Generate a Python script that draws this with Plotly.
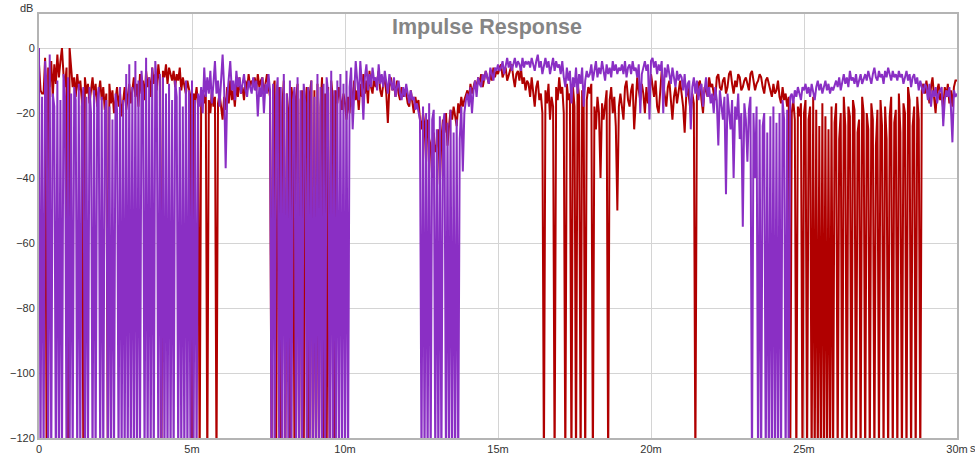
import plotly.graph_objects as go

# sample period of the impulse response, ms
dt = 0.05
N = -130  # below the -120 floor, drawn clipped

# channel 1 (red), dB, one row per millisecond
red_db = [
    -5, -13, -14, -14, -3, N, -6, -12, -4, -15, -5, -11, -2, -9, -4, 0, -8, -12, -6, N,
    0, -6, -12, -9, -15, -8, -13, -10, -16, N, -9, -14, -11, -17, -12, -9, -15, -11, -18, -13,
    -10, -16, -12, -19, -14, N, -11, -17, -13, -20, -15, -12, -18, -14, -21, -16, -12, -19, -15, -11,
    -17, -13, -9, -15, -11, -18, -8, -14, -10, -16, -7, -12, -9, -15, -6, -11, -8, -13, -5, -10,
    N, -7, -9, -5, -11, -6, -8, -10, -7, -12, -8, -10, -6, -13, -9, -11, -14, -10, -12, -15,
    N, -14, -16, -12, -18, N, -15, -13, -17, -14, N, -16, -20, -13, -18, -15, N, -17, -14, -19,
    -22, -15, -19, -12, -17, -10, -16, -13, -18, -11, -15, -9, -14, -12, -16, -10, -13, -8, -12, -10,
    -11, -9, -13, -8, -12, -10, -9, -14, -11, -8, -12, -15, N, -13, -10, N, -16, -12, N, -18,
    -10, N, -14, -20, N, -12, -17, N, -15, -11, N, -16, -13, N, -19, -12, N, -14, -10, N,
    -13, N, -11, N, -18, -9, N, -14, N, -12, N, -10, -15, N, -13, -17, -12, -15, -19, -14,
    -17, -22, -15, -20, -12, -18, -10, -16, -13, -19, -11, -15, -8, -14, -10, -17, -7, -12, -14, -9,
    -12, -10, -7, -13, -15, -11, -9, -14, -23, -12, -9, -13, -11, -15, -10, -14, -16, -12, -15, -13,
    -14, -17, -18, -13, -16, -20, -15, -18, -16, -22, -25, -20, -24, -35, -22, -28, -30, -40, -26, -32,
    -30, -25, -42, -28, -22, -26, -20, -30, -24, -19, -22, -18, -21, -24, -17, -20, -15, -18, -16, -14,
    -13, -16, -11, -14, -12, -10, -13, -9, -11, -8, -12, -10, -7, -9, -11, -8, -10, -6, -9, -7,
    -8, -6, -5, -9, -7, -6, -10, -8, -7, -5, -9, -12, -8, -7, -10, -6, -11, -9, -13, -10,
    -11, -15, -9, -13, -18, -12, -10, -16, -14, -20, N, -13, -17, -11, -22, -15, -18, N, -12, -16,
    -9, -14, -12, -20, N, -11, -16, -14, N, -12, -18, N, -10, -15, N, -13, -17, N, -16, -12,
    -14, -11, N, -18, -25, -15, -20, -40, -17, -22, -18, -13, N, -16, -12, -20, -15, -24, -50, -18,
    -14, -19, -22, -12, -10, -16, -18, -13, -11, -25, -15, -9, -13, -16, -11, -14, -20, -12, -17, -15,
    -8, -12, -15, -10, -18, -20, -13, -7, -11, -14, -18, -12, -10, -16, -22, -15, -12, -17, -13, -10,
    -14, -18, -26, -15, -12, -16, -20, -14, -17, N, -15, -11, -10, -16, -20, -12, -13, -15, -9, -12,
    -11, -14, -16, -9, -8, -12, -13, -10, -9, -14, -12, -8, -7, -11, -14, -10, -12, -8, -9, -13,
    -12, -10, -9, -11, -13, -8, -7, -10, -13, -11, -10, -8, -9, -12, -14, -10, -9, -11, -13, -15,
    -11, -14, -13, -10, -15, -17, -12, -16, -14, -18, -15, N, -20, -16, -22, N, -18, -21, -17, N,
    -20, -16, N, -22, -18, N, -15, N, -19, N, -24, N, -17, N, -21, N, -25, N, -18, N,
    -23, -17, N, -28, -20, N, -15, -24, N, -18, -21, N, -16, -19, N, -26, -22, N, -15, -20,
    N, -20, -25, N, -17, -22, N, -30, -19, N, -16, -24, N, -18, -28, N, -21, -15, N, -23,
    -19, N, -14, -26, N, -17, -20, N, -12, -16, N, -24, -18, N, -15, -22, N, -13, -11, -14,
    -10, -14, -17, -12, -9, -15, -20, -13, -11, -16, -14, -19, -12, -15, -11, -17, -13, -18, -12, -10,
    -10,
]

# channel 2 (purple), dB
purple_db = [
    0, N, -15, N, -4, -12, N, -2, N, -14, -18, N, -10, N, -16, N, -8, -15, N, -9,
    N, -14, N, -12, -16, N, -11, N, -18, -12, N, -15, N, -12, -20, N, -13, N, -17, -12,
    N, -15, N, -20, -16, N, -18, N, -22, N, -14, -19, N, -12, N, -16, N, -8, N, -5,
    N, -12, N, -4, N, -10, N, -7, -14, N, -3, N, -9, N, -6, N, -4, -12, N, -8,
    N, -9, N, -14, N, -11, N, -16, N, -10, -15, N, -12, N, -18, N, -10, N, -13, N,
    -10, N, -16, N, -14, -18, -12, -20, -6, -15, -9, -14, -7, -17, -11, -4, -14, -10, -18, -9,
    -2, -12, -37, -15, -8, -4, -13, -10, -16, -7, -12, -9, -14, -11, -8, -13, -15, -10, -12, -14,
    -9, -13, -10, -21, -12, -15, -9, -20, -11, -14, -8, -13, N, -11, N, -15, -9, N, -12, N,
    -8, N, -14, N, -10, N, -16, -12, N, -9, N, -13, N, -11, -17, N, -12, N, -10, N,
    -15, N, -8, N, -12, N, -11, N, -9, -14, N, -7, N, -13, N, -10, N, -8, N, -11,
    N, -7, N, -12, -6, -25, -14, -4, -10, -16, -4, -11, -22, -9, -5, -13, -8, -12, -6, -10,
    -9, -13, -5, -11, -8, -12, -7, -10, -14, -8, -11, -13, -9, -15, -12, -10, -14, -16, -12, -15,
    -11, -14, -17, -13, -16, -15, -19, -17, -20, -22, N, -18, N, -20, N, -17, N, -22, -19, N,
    -25, N, -21, N, -24, -20, N, -23, N, -19, N, -26, N, -22, N, -28, -18, -38, -20, -16,
    -14, -18, -12, -20, -13, -10, -15, -9, -11, -12, -8, -10, -7, -9, -11, -6, -8, -10, -6, -7,
    -5, -7, -6, -4, -8, -5, -3, -6, -4, -7, -5, -3, -6, -4, -5, -7, -3, -6, -4, -5,
    -4, -6, -3, -5, -7, -4, -2, -6, -4, -8, -5, -3, -6, -4, -8, -5, -3, -7, -4, -6,
    -5, -8, -4, -9, -12, -6, -10, -7, -17, -9, -12, -6, -14, -8, -11, -6, -18, -10, -7, -9,
    -8, -5, -10, -7, -4, -9, -6, -8, -4, -7, -10, -5, -8, -6, -9, -4, -7, -5, -8, -6,
    -7, -5, -8, -4, -9, -6, -5, -8, -4, -7, -6, -9, -5, -20, -8, -6, -4, -7, -5, -22,
    -4, -3, -6, -4, -8, -5, -7, -4, -20, -6, -9, -5, -8, -11, -6, -9, -12, -7, -10, -8,
    -9, -13, -8, -15, -11, -10, -25, -12, -9, -14, -10, -16, -12, -11, -18, -13, -9, -15, -12, -17,
    -14, -20, -12, -16, -30, -13, -18, -22, -15, -45, -14, -19, -25, -16, -40, -18, -22, -14, -28, -20,
    -55, -17, -22, -35, -19, -15, N, -20, -40, -18, N, -22, N, -24, -20, N, -26, N, -21, N,
    -18, N, -23, N, -20, N, -16, -22, N, -19, N, -15, -14, -17, -13, -15, -12, -14, -16, -12,
    -13, -11, -14, -12, -15, -11, -13, -16, -12, -10, -13, -11, -14, -12, -10, -13, -11, -14, -12, -13,
    -11, -10, -12, -9, -13, -10, -8, -11, -9, -12, -7, -10, -9, -11, -8, -12, -10, -8, -11, -9,
    -8, -10, -7, -9, -11, -8, -6, -9, -10, -7, -9, -8, -11, -7, -9, -6, -8, -10, -7, -9,
    -8, -10, -7, -9, -8, -11, -9, -7, -10, -8, -12, -9, -8, -11, -9, -13, -10, -12, -14, -11,
    -12, -16, -11, -18, -13, -15, -12, -17, -14, -13, -12, -24, -16, -13, -15, -12, -18, -29, -13, -15,
    -14,
]

x_ticks = [0, 5, 10, 15, 20, 25, 30]
x_labels = ['0', '5m', '10m', '15m', '20m', '25m', '30m']
y_ticks = [0, -20, -40, -60, -80, -100, -120]

t_red = [i * dt for i in range(len(red_db))]
t_purple = [i * dt for i in range(len(purple_db))]

fig = go.Figure()
fig.add_trace(go.Scatter(x=t_red, y=red_db, mode='lines',
                         line=dict(color='#b00000', width=2)))
fig.add_trace(go.Scatter(x=t_purple, y=purple_db, mode='lines',
                         line=dict(color='#8a2fc4', width=2)))

font = dict(family='Liberation Sans, Arial', size=11, color='#333333')

fig.update_layout(
    width=975, height=460,
    margin=dict(l=39, r=18, t=14, b=22),
    paper_bgcolor='white', plot_bgcolor='white',
    showlegend=False,
    font=font,
    xaxis=dict(range=[0, 30], tickvals=x_ticks, ticktext=x_labels,
               showgrid=True, gridcolor='#d4d4d4', gridwidth=1,
               zeroline=False, showline=True, linecolor='#b4b4b4',
               linewidth=2, mirror=True, ticks='', tickfont=font,
               automargin=False),
    yaxis=dict(range=[-120, 10.5], tickvals=y_ticks,
               showgrid=True, gridcolor='#d4d4d4', gridwidth=1,
               zeroline=False, showline=True, linecolor='#b4b4b4',
               linewidth=2, mirror=True, ticks='', tickfont=font,
               automargin=False),
    annotations=[
        dict(text='<b>Impulse Response</b>', xref='paper', yref='paper',
             x=0.488, y=0.97, showarrow=False, yanchor='middle',
             font=dict(family='Liberation Sans, Arial', size=21.5, color='#858585')),
        dict(text='dB', xref='paper', yref='paper', x=-0.004, y=1.0,
             xanchor='right', yanchor='bottom', yshift=-2, showarrow=False,
             font=font),
        dict(text='s', xref='paper', yref='paper', x=1.0, y=0,
             xanchor='left', yanchor='top', xshift=11, yshift=-2,
             showarrow=False, font=font),
    ],
)

# drop the browser's default page margin so the figure sits at the top-left corner
fig.write_html("out.html", config={'displayModeBar': False},
               post_script="document.body.style.margin='0';document.body.style.overflow='hidden';")
